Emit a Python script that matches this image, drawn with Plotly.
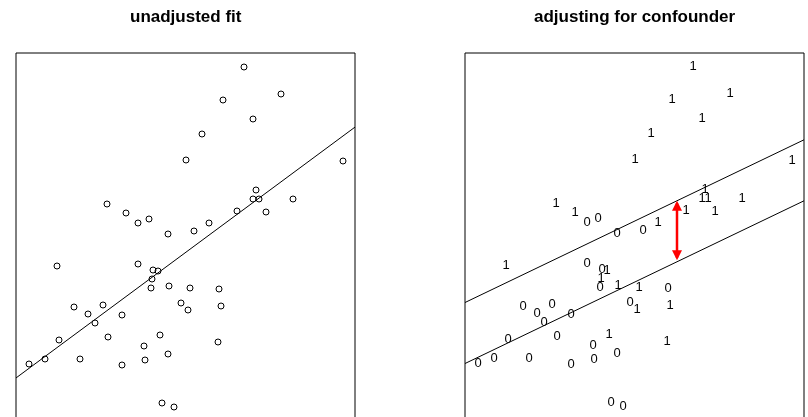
import plotly.graph_objects as go

# ---- data ----
x_vals = [24.4, 28.1, 22.3, 25.3, 20.2, 18.6, 34.3, 25.6, 25.3, 25.9,
          29.3, 10.7, 23.7, 26.6, 12.6, 14.9, 13.8, 20.9, 19.4, 16.8,
          13.8, 5.7, 15.3, 15.8, 15.2, 15.1, 16.9, 19.0, 21.9, 18.1,
          7.4, 10.3, 22.1, 18.8, 8.8, 12.2, 9.5, 16.0, 10.8, 5.9,
          21.8, 14.4, 16.8, 14.5, 8.0, 4.5, 12.2, 2.9, 16.2, 17.4]
y_vals = [35.0, 32.3, 31.7, 29.8, 28.3, 25.7, 25.6, 22.7, 21.8, 21.8,
          21.8, 21.3, 20.6, 20.5, 20.4, 19.8, 19.4, 19.4, 18.6, 18.3,
          15.3, 15.1, 14.7, 14.6, 13.8, 12.9, 13.1, 12.9, 12.8, 11.4,
          11.0, 11.2, 11.1, 10.7, 10.3, 10.2, 9.4, 8.2, 8.0, 7.7,
          7.5, 7.1, 6.3, 5.7, 5.8, 5.8, 5.2, 5.3, 1.4, 1.0]
confounder = [1, 1, 1, 1, 1, 1, 1, 1, 1, 1,
              1, 1, 1, 1, 1, 0, 0, 1, 0, 0,
              0, 1, 0, 1, 1, 0, 1, 1, 0, 0,
              0, 0, 1, 1, 0, 0, 0, 1, 0, 0,
              1, 0, 0, 0, 0, 0, 0, 0, 0, 0]

# fitted coefficients
unadj_intercept = 2.72
unadj_slope = 0.740
adj_intercept_0 = 4.58
adj_intercept_1 = 10.68
adj_slope = 0.480
arrow_x = 22.8

x_range = [1.6, 35.5]
y_range = [0.0, 36.4]

W, H = 808, 417
ml, mr, mt, mb = 16, 4, 53, 0
pw = W - ml - mr
ph = H - mt - mb
left_dom = [0, (355 - 16) / pw]
right_dom = [(465 - 16) / pw, 1]

fig = go.Figure()

# left panel points
fig.add_trace(go.Scatter(x=x_vals, y=y_vals, mode="markers",
                         marker=dict(symbol="circle-open", size=6, color="black",
                                     line=dict(width=1, color="black")),
                         xaxis="x", yaxis="y", showlegend=False, hoverinfo="skip"))
# left regression line
fig.add_trace(go.Scatter(x=x_range,
                         y=[unadj_intercept + unadj_slope * v for v in x_range],
                         mode="lines", line=dict(color="black", width=1),
                         xaxis="x", yaxis="y", showlegend=False, hoverinfo="skip"))

# right panel text markers
fig.add_trace(go.Scatter(x=x_vals, y=y_vals, mode="text",
                         text=[str(c) for c in confounder],
                         textposition="middle center",
                         textfont=dict(family="Liberation Sans, Arial, sans-serif",
                                       size=13, color="black"),
                         opacity=0.99,
                         xaxis="x2", yaxis="y2", showlegend=False, hoverinfo="skip"))
for b0 in (adj_intercept_1, adj_intercept_0):
    fig.add_trace(go.Scatter(x=x_range, y=[b0 + adj_slope * v for v in x_range],
                             mode="lines", line=dict(color="black", width=1),
                             xaxis="x2", yaxis="y2", showlegend=False, hoverinfo="skip"))

ax_common = dict(showgrid=False, zeroline=False, showticklabels=False,
                 ticks="", showline=False, fixedrange=True)
fig.update_layout(
    width=W, height=H,
    margin=dict(l=ml, r=mr, t=mt, b=mb),
    paper_bgcolor="white", plot_bgcolor="white",
    hovermode=False,
    xaxis=dict(domain=left_dom, range=x_range, **ax_common),
    yaxis=dict(domain=[0, 1], range=y_range, **ax_common),
    xaxis2=dict(domain=right_dom, range=x_range, anchor="y2", **ax_common),
    yaxis2=dict(domain=[0, 1], range=y_range, anchor="x2", **ax_common),
)

# panel boxes (left, top, right sides; bottom lies below the visible page)
for xr, yr in (("x domain", "y domain"), ("x2 domain", "y2 domain")):
    for (x0, y0, x1, y1) in ((0, 0, 0, 1), (0, 1, 1, 1), (1, 1, 1, 0)):
        fig.add_shape(type="line", xref=xr, yref=yr, x0=x0, y0=y0, x1=x1, y1=y1,
                      line=dict(color="black", width=1))

# red double arrow between the two adjusted lines
y_low = adj_intercept_0 + adj_slope * arrow_x
y_up = adj_intercept_1 + adj_slope * arrow_x
fig.add_annotation(x=arrow_x, y=y_up, ax=arrow_x, ay=y_low,
                   xref="x2", yref="y2", axref="x2", ayref="y2",
                   showarrow=True, arrowhead=2, startarrowhead=2,
                   arrowside="end+start", arrowsize=0.8, startarrowsize=0.8,
                   arrowwidth=2.5, arrowcolor="red", text="")

# titles
title_y = 1 + (mt - 17) / ph
for dom, t in ((left_dom, "unadjusted fit"), (right_dom, "adjusting for confounder")):
    fig.add_annotation(x=(dom[0] + dom[1]) / 2, y=title_y, xref="paper", yref="paper",
                       text="<b>" + t + "</b>", showarrow=False,
                       xanchor="center", yanchor="middle",
                       font=dict(family="Liberation Sans, Arial, sans-serif",
                                 size=17, color="black"))

fig.write_html("out.html",
               config={"displayModeBar": False, "staticPlot": True},
               post_script="document.body.style.margin='0';"
                           "document.body.style.overflow='hidden';")
